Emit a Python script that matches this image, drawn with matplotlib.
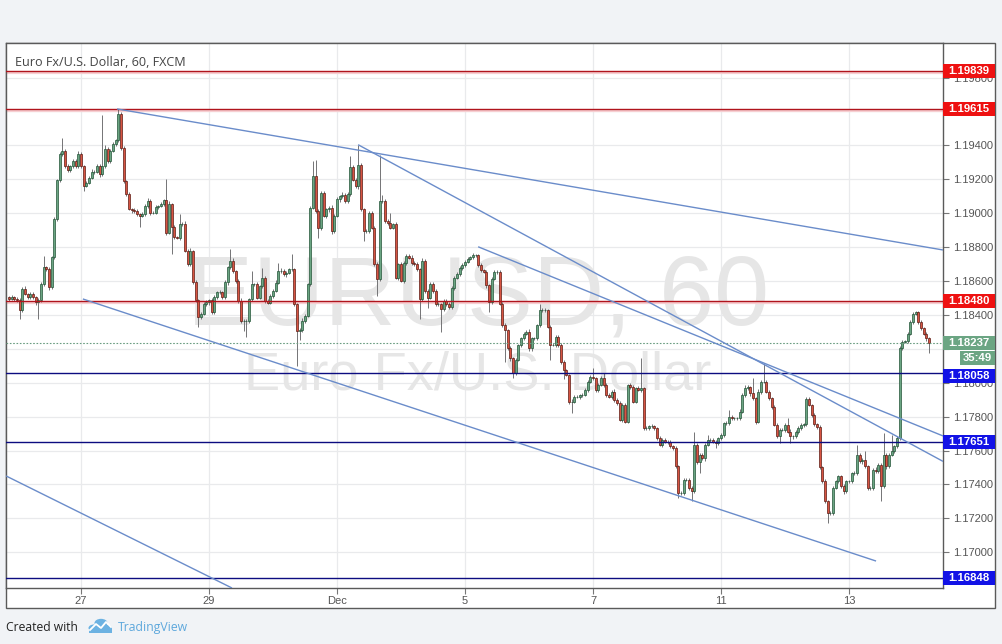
import matplotlib
matplotlib.use("Agg")
import matplotlib.pyplot as plt
from matplotlib import font_manager
from matplotlib.patches import Rectangle, Circle
from matplotlib.transforms import blended_transform_factory

W, H = 1002, 644

# hourly closes, EUR/USD FXCM (one per candle)
closes = [
    1.18494, 1.18504, 1.18494, 1.18485, 1.18430, 1.18553, 1.18524, 1.18504, 1.18524, 1.18504, 1.18475, 1.18485,
    1.18583, 1.18681, 1.18671, 1.18563, 1.18739, 1.18965, 1.19194, 1.19347, 1.19367, 1.19278, 1.19253, 1.19278,
    1.19308, 1.19278, 1.19351, 1.19278, 1.19161, 1.19180, 1.19210, 1.19245, 1.19245, 1.19278, 1.19229, 1.19278,
    1.19380, 1.19308, 1.19367, 1.19406, 1.19429, 1.19586, 1.19386, 1.19190, 1.19112, 1.19024, 1.19018, 1.19014,
    1.18994, 1.18984, 1.18994, 1.19043, 1.19073, 1.19004, 1.19004, 1.19037, 1.19043, 1.19053, 1.19077, 1.18886,
    1.19053, 1.18916, 1.18857, 1.18853, 1.18935, 1.18939, 1.18779, 1.18700, 1.18775, 1.18592, 1.18485, 1.18387,
    1.18406, 1.18465, 1.18475, 1.18485, 1.18416, 1.18504, 1.18534, 1.18534, 1.18504, 1.18592, 1.18681, 1.18720,
    1.18659, 1.18600, 1.18483, 1.18365, 1.18365, 1.18365, 1.18493, 1.18581, 1.18581, 1.18502, 1.18571, 1.18620,
    1.18483, 1.18473, 1.18512, 1.18542, 1.18591, 1.18659, 1.18659, 1.18640, 1.18649, 1.18669, 1.18669, 1.18463,
    1.18306, 1.18310, 1.18365, 1.18395, 1.18581, 1.19032, 1.19222, 1.19012, 1.18914, 1.19120, 1.18983, 1.19022,
    1.19032, 1.18894, 1.18983, 1.19081, 1.19100, 1.19110, 1.19071, 1.19116, 1.19271, 1.19198, 1.19159, 1.19286,
    1.19022, 1.18894, 1.18894, 1.19002, 1.18914, 1.18698, 1.18610, 1.19071, 1.19071, 1.18953, 1.18943, 1.18914,
    1.18934, 1.18620, 1.18700, 1.18600, 1.18708, 1.18747, 1.18738, 1.18708, 1.18698, 1.18669, 1.18493, 1.18718,
    1.18542, 1.18502, 1.18581, 1.18542, 1.18463, 1.18463, 1.18434, 1.18483, 1.18463, 1.18444, 1.18561, 1.18620,
    1.18640, 1.18679, 1.18692, 1.18712, 1.18731, 1.18741, 1.18751, 1.18751, 1.18692, 1.18663, 1.18653, 1.18575,
    1.18477, 1.18614, 1.18653, 1.18653, 1.18467, 1.18339, 1.18310, 1.18202, 1.18143, 1.18055, 1.18134, 1.18222,
    1.18261, 1.18290, 1.18300, 1.18202, 1.18261, 1.18261, 1.18339, 1.18428, 1.18428, 1.18428, 1.18330, 1.18222,
    1.18222, 1.18271, 1.18222, 1.18124, 1.18075, 1.18045, 1.17889, 1.17889, 1.17918, 1.17918, 1.17928, 1.17928,
    1.17957, 1.18006, 1.18036, 1.18026, 1.17957, 1.17987, 1.18026, 1.17987, 1.17928, 1.17918, 1.17947, 1.17898,
    1.17879, 1.17781, 1.17869, 1.17771, 1.17987, 1.17977, 1.17889, 1.17967, 1.17957, 1.17967, 1.17732, 1.17732,
    1.17742, 1.17742, 1.17732, 1.17673, 1.17634, 1.17663, 1.17653, 1.17653, 1.17624, 1.17614, 1.17506, 1.17350,
    1.17350, 1.17428, 1.17428, 1.17379, 1.17359, 1.17634, 1.17530, 1.17575, 1.17555, 1.17634, 1.17663, 1.17663,
    1.17653, 1.17643, 1.17673, 1.17692, 1.17761, 1.17761, 1.17800, 1.17790, 1.17790, 1.17790, 1.17830, 1.17928,
    1.17967, 1.17973, 1.17937, 1.17908, 1.17771, 1.17947, 1.18006, 1.18006, 1.17947, 1.17908, 1.17859, 1.17751,
    1.17683, 1.17722, 1.17722, 1.17751, 1.17712, 1.17683, 1.17683, 1.17712, 1.17732, 1.17751, 1.17755, 1.17904,
    1.17869, 1.17810, 1.17755, 1.17741, 1.17500, 1.17418, 1.17300, 1.17232, 1.17232, 1.17379, 1.17418, 1.17447,
    1.17389, 1.17359, 1.17418, 1.17418, 1.17467, 1.17467, 1.17575, 1.17536, 1.17546, 1.17506, 1.17379, 1.17379,
    1.17487, 1.17477, 1.17516, 1.17389, 1.17575, 1.17506, 1.17575, 1.17598, 1.17624, 1.17673, 1.18202, 1.18241,
    1.18245, 1.18290, 1.18359, 1.18408, 1.18415, 1.18359, 1.18320, 1.18290, 1.18261, 1.18237,
]
first_open = 1.18505

# small wicks beyond the body, in points (0.00001)
wick_up = [
    8, 12, 6, 10, 15, 9, 20, 7, 12, 10, 6, 14, 10, 18, 9, 12, 8, 15, 10, 12, 20, 9, 14, 8,
    12, 10, 18, 9, 7, 12, 10, 15, 8, 14, 10, 9, 22, 12, 10, 14, 9, 16, 10, 12, 8, 14, 9, 11,
    10, 6, 12, 9, 14, 8, 10, 12, 7, 15, 9, 11, 20, 8, 12, 10, 14, 9, 16, 7, 18, 10, 12, 8,
    9, 14, 10, 7, 12, 15, 8, 11, 9, 13, 10, 12, 14, 8, 10, 16, 9, 12, 7, 11, 10, 14, 8, 12,
    10, 9, 14, 8, 12, 10, 15, 9, 11, 8, 13, 10, 9, 12, 14, 8, 10, 12, 9, 15, 10, 8, 12, 11,
    9, 14, 10, 12, 8, 16, 10, 9, 12, 14, 8, 10, 11, 9, 13, 12, 10, 8, 15, 9, 12, 10, 14, 8,
    10, 12, 9, 14, 8, 11, 10, 13, 9, 12, 8, 15, 10, 9, 12, 11, 8, 14, 10, 12, 9, 13, 10, 8,
    12, 10, 14, 9, 11, 8, 12, 10, 9, 15, 8, 12, 10, 11, 9, 14, 10, 8, 12, 9, 13, 10, 11, 8,
    9, 12, 10, 14, 8, 11, 10, 9, 13, 12, 8, 10, 14, 9, 11, 10, 12, 8, 9, 13, 10, 12, 8, 11,
    10, 9, 12, 14, 8, 10, 11, 9, 12, 10, 8, 13, 9, 11, 10, 12, 8, 14, 9, 10, 12, 11, 8, 10,
    9, 12, 10, 8, 11, 13, 9, 10, 12, 8, 14, 10, 9, 11, 12, 8, 10, 13, 9, 12, 10, 8, 11, 9,
    12, 10, 8, 14, 9, 11, 10, 12, 8, 10, 13, 9, 11, 12, 8, 10, 9, 14, 10, 11, 8, 12, 9, 10,
    11, 8, 12, 10, 9, 13, 10, 8, 12, 11, 9, 10, 14, 8, 12, 10, 9, 11, 13, 8, 10, 12, 9, 10,
    8, 12, 10, 11, 9, 14, 8, 10, 12, 9, 11, 10, 8, 13, 10, 9, 12, 8, 11, 10, 9, 12, 14, 10,
    8, 11, 9, 12, 10, 8, 13, 10, 9, 11,
]
wick_dn = [
    10, 8, 12, 9, 14, 10, 8, 12, 9, 11, 15, 10, 8, 12, 10, 14, 9, 8, 12, 10, 9, 13, 11, 8,
    10, 12, 9, 14, 11, 8, 10, 9, 12, 10, 14, 8, 9, 12, 10, 8, 11, 9, 13, 10, 12, 8, 14, 10,
    9, 12, 8, 11, 10, 14, 9, 10, 12, 8, 11, 13, 9, 10, 12, 8, 14, 10, 9, 12, 11, 8, 10, 13,
    12, 9, 10, 14, 8, 11, 10, 12, 9, 8, 13, 10, 12, 9, 11, 10, 8, 14, 10, 9, 12, 8, 11, 10,
    13, 9, 10, 12, 8, 11, 10, 9, 14, 8, 12, 10, 9, 11, 10, 13, 8, 12, 10, 9, 11, 14, 8, 10,
    12, 9, 10, 8, 13, 11, 9, 10, 12, 8, 10, 14, 9, 11, 10, 12, 8, 9, 13, 10, 11, 8, 12, 10,
    9, 11, 12, 8, 10, 13, 9, 11, 10, 12, 8, 10, 14, 9, 11, 12, 10, 8, 9, 13, 10, 11, 8, 12,
    10, 9, 12, 11, 8, 10, 13, 9, 12, 10, 8, 14, 9, 11, 10, 12, 8, 10, 11, 9, 13, 10, 12, 8,
    11, 10, 9, 12, 14, 8, 10, 11, 9, 12, 10, 13, 8, 9, 11, 12, 10, 8, 14, 10, 9, 11, 12, 10,
    8, 12, 10, 9, 13, 11, 8, 10, 12, 9, 14, 10, 11, 8, 12, 10, 9, 13, 10, 11, 8, 12, 9, 10,
    12, 8, 11, 10, 9, 14, 10, 12, 8, 11, 9, 10, 13, 12, 8, 10, 9, 11, 12, 10, 8, 14, 9, 10,
    11, 9, 12, 8, 10, 13, 11, 9, 10, 12, 8, 11, 10, 9, 14, 10, 12, 8, 11, 9, 10, 12, 13, 8,
    10, 12, 9, 11, 8, 10, 14, 9, 12, 10, 11, 8, 9, 12, 10, 13, 8, 11, 10, 9, 12, 10, 8, 11,
    9, 13, 10, 8, 12, 11, 9, 10, 14, 8, 12, 10, 9, 11, 10, 12, 8, 13, 9, 10, 11, 12, 8, 10,
    9, 12, 10, 11, 8, 13, 10, 9, 12, 10,
]

# long wicks read individually: candle index -> extreme price
high_marks = {
    13: 1.18750, 20: 1.19441, 35: 1.19580, 41: 1.19615, 59: 1.19200, 64: 1.18994, 83: 1.18789,
    91: 1.18659, 95: 1.18679, 101: 1.18708, 106: 1.18757, 114: 1.19306, 115: 1.19316, 128: 1.19335,
    131: 1.19404, 139: 1.19345, 140: 1.19110, 143: 1.19000, 155: 1.18727, 199: 1.18467, 219: 1.18085,
    223: 1.18055, 237: 1.18143, 257: 1.17712, 262: 1.17692, 270: 1.17839, 276: 1.17986, 279: 1.18026,
    283: 1.18114, 292: 1.17790, 300: 1.17918, 318: 1.17634, 321: 1.17600, 328: 1.17703, 331: 1.17690,
    340: 1.18425,
}
low_marks = {
    4: 1.18377, 11: 1.18377, 28: 1.19131, 49: 1.18916, 61: 1.18759, 71: 1.18328, 88: 1.18306,
    89: 1.18267, 108: 1.18100, 109: 1.18250, 116: 1.18855, 121: 1.18875, 133: 1.18835, 138: 1.18512,
    154: 1.18375, 157: 1.18440, 162: 1.18297, 180: 1.18418, 186: 1.18124, 189: 1.18030, 203: 1.18134,
    208: 1.18020, 211: 1.17820, 231: 1.17761, 251: 1.17320, 256: 1.17300, 259: 1.17467, 265: 1.17614,
    289: 1.17643, 293: 1.17643, 307: 1.17173, 327: 1.17300, 345: 1.18173,
}

red_levels = [1.19839, 1.19615, 1.18480]
blue_levels = [1.18058, 1.17651, 1.16848]
last_price = 1.18237
countdown = "35:49"

# trend lines drawn on the chart: (candle index, price) pairs
trend_lines = [
    ((40.5, 1.19615), (350.2, 1.18783)),
    ((130.9, 1.19404), (350.2, 1.17536)),
    ((175.9, 1.18802), (350.2, 1.17686)),
    ((27.7, 1.18494), (325.1, 1.16948)),
    ((-1.1, 1.17450), (83.6, 1.16789)),
]

day_ticks = [27, 75, 123, 171, 219, 267, 315]
day_labels = ["27", "29", "Dec", "5", "7", "11", "13"]
price_ticks = [1.170, 1.172, 1.174, 1.176, 1.178, 1.180, 1.182, 1.184,
               1.186, 1.188, 1.190, 1.192, 1.194, 1.196, 1.198]
# scale labels that sit fully under a tag on the reference
hidden_ticks = [1.182, 1.196]

assert len(closes) == len(wick_up) == len(wick_dn)

UP, DOWN = "#6ba583", "#d75442"
UP_EDGE, DOWN_EDGE = "#225437", "#5b1a13"
WICK = "#737375"
RED_LINE, RED_BOX = "#b0141c", "#ee1111"
BLUE_LINE, BLUE_BOX = "#0c0c80", "#1212e6"
TREND = "#6a8cca"
GRID = "#e9eaec"
AXTXT = "#555555"

names = {f.name for f in font_manager.fontManager.ttflist}
num_font = "Liberation Sans" if "Liberation Sans" in names else "DejaVu Sans"
wm_font = "Liberation Sans Narrow" if "Liberation Sans Narrow" in names else num_font
ui_font = "Open Sans" if "Open Sans" in names else "DejaVu Sans"
plt.rcParams["font.family"] = num_font

fig = plt.figure(figsize=(W / 100, H / 100), dpi=100, facecolor="#f1f3f6")

# white panel holding plot, price scale and time scale
fig.add_artist(Rectangle((6 / W, 1 - 608 / H), 989 / W, 565 / H, transform=fig.transFigure,
                         facecolor="white", edgecolor="#5a5a5a", lw=1, zorder=-1))

ax = fig.add_axes([6 / W, 1 - 588 / H, 937 / W, 545 / H])
ax.set_facecolor("white")
for s in ax.spines.values():
    s.set_color("#5a5a5a")
    s.set_linewidth(1)

xmin, xmax = -1.125, 350.2
ymin, ymax = 1.16789, 1.20004
px_per_price = 545 / (ymax - ymin)

idx = list(range(len(closes)))
opens = [first_open] + closes[:-1]
highs, lows = [], []
for i in idx:
    top = max(opens[i], closes[i]) + wick_up[i] * 1e-5
    bot = min(opens[i], closes[i]) - wick_dn[i] * 1e-5
    highs.append(max(top, high_marks.get(i, top)))
    lows.append(min(bot, low_marks.get(i, bot)))

up = [c >= o for o, c in zip(opens, closes)]
ax.vlines(idx, lows, highs, color=WICK, lw=0.7, zorder=3)
ax.bar(idx, [abs(c - o) for o, c in zip(opens, closes)],
       bottom=[min(o, c) for o, c in zip(opens, closes)], width=0.75,
       color=[UP if u else DOWN for u in up],
       edgecolor=[UP_EDGE if u else DOWN_EDGE for u in up], linewidth=0.5, zorder=4)

# horizontal levels
halo = 1.6 / px_per_price
for lv in red_levels:
    ax.axhline(lv - halo, color="#f7cfd2", lw=1.6, zorder=2)
    ax.axhline(lv, color=RED_LINE, lw=1.0, zorder=5)
for lv in blue_levels:
    ax.axhline(lv, color=BLUE_LINE, lw=1.0, zorder=5)
ax.axhline(last_price, color="#6a9c80", lw=0.8, ls=(0, (1.5, 1.5)), zorder=5)

for (x0, y0), (x1, y1) in trend_lines:
    ax.plot([x0, x1], [y0, y1], color=TREND, lw=1.0, zorder=5, solid_capstyle="butt")

ax.set_xlim(xmin, xmax)
ax.set_ylim(ymin, ymax)
ax.set_xticks(day_ticks)
ax.set_xticklabels(day_labels)
ax.set_yticks(price_ticks)
ax.set_yticklabels(["" if p in hidden_ticks else f"{p:.5f}" for p in price_ticks])
ax.yaxis.tick_right()
ax.tick_params(axis="x", length=4, width=0.8, color="#777777", pad=2, labelsize=8, labelcolor=AXTXT)
ax.tick_params(axis="y", length=4, width=0.8, color="#777777", pad=3, labelsize=8, labelcolor=AXTXT)
ax.grid(True, color=GRID, lw=0.9, zorder=0)
ax.set_axisbelow(True)

# price-scale tags
trans = blended_transform_factory(fig.transFigure, ax.transData)
box_h = 14 / px_per_price


def price_tag(price, text, face, shift_px=0.0, x0=943, x1=995):
    c = price - shift_px / px_per_price
    fig.add_artist(Rectangle((x0 / W, c - box_h / 2), (x1 - x0) / W, box_h, transform=trans,
                             facecolor=face, edgecolor="none", zorder=6))
    fig.text((x0 + x1) / 2 / W, c, text, transform=trans, ha="center", va="center",
             color="white", fontsize=8.2, fontweight="bold", zorder=7)


for lv in red_levels:
    price_tag(lv, f"{lv:.5f}", RED_BOX)
price_tag(blue_levels[0], f"{blue_levels[0]:.5f}", BLUE_BOX, shift_px=3.5)
for lv in blue_levels[1:]:
    price_tag(lv, f"{lv:.5f}", BLUE_BOX)
price_tag(last_price, f"{last_price:.5f}", "#6ba583")
price_tag(last_price, countdown, "#6ba583", shift_px=15, x0=960)

# watermark and legend title
wm1 = ax.text((478 - 6) / 937, (588 - 325) / 545, "EURUSD, 60", transform=ax.transAxes,
              ha="center", va="baseline", fontsize=80, color="#e6e6e6", family=wm_font, zorder=1)
wm2 = ax.text((478 - 6) / 937, (588 - 390) / 545, "Euro Fx/U.S. Dollar", transform=ax.transAxes,
              ha="center", va="baseline", fontsize=40, color="#e6e6e6", family=wm_font, zorder=1)
title = fig.text(15 / W, 1 - 66 / H, "Euro Fx/U.S. Dollar, 60, FXCM", ha="left", va="baseline",
                 fontsize=9, color="#444444", family=ui_font, zorder=7)

created = fig.text(6 / W, 1 - 631 / H, "Created with", ha="left", va="baseline",
                   fontsize=9, color="#222222", family=ui_font)
tv = fig.text(118 / W, 1 - 631 / H, "TradingView", ha="left", va="baseline",
              fontsize=9, color="#5ea8dc", family=ui_font)

# TradingView cloud mark
for cx, cy, r in [(94, 628, 5.5), (101, 623, 6.5), (107, 628, 5)]:
    fig.add_artist(Circle((cx / W, 1 - cy / H), r / W, transform=fig.transFigure,
                          facecolor="#6cb2e2", edgecolor="none"))
fig.add_artist(Rectangle((89 / W, 1 - 633 / H), 23 / W, 5 / H, transform=fig.transFigure,
                         facecolor="#6cb2e2", edgecolor="none"))
fig.add_artist(plt.Line2D([90 / W, 96 / W, 101 / W, 106 / W, 111 / W],
                          [1 - 630 / H, 1 - 624 / H, 1 - 628 / H, 1 - 622 / H, 1 - 627 / H],
                          transform=fig.transFigure, color="white", lw=1.3))

# size texts to the widths measured on the reference
fig.canvas.draw()
rend = fig.canvas.get_renderer()
for t, target in [(wm1, 583), (wm2, 467), (title, 172), (created, 73), (tv, 71)]:
    w = t.get_window_extent(rend).width
    t.set_fontsize(t.get_fontsize() * target / w)

fig.savefig("out.png", dpi=100, facecolor=fig.get_facecolor())
